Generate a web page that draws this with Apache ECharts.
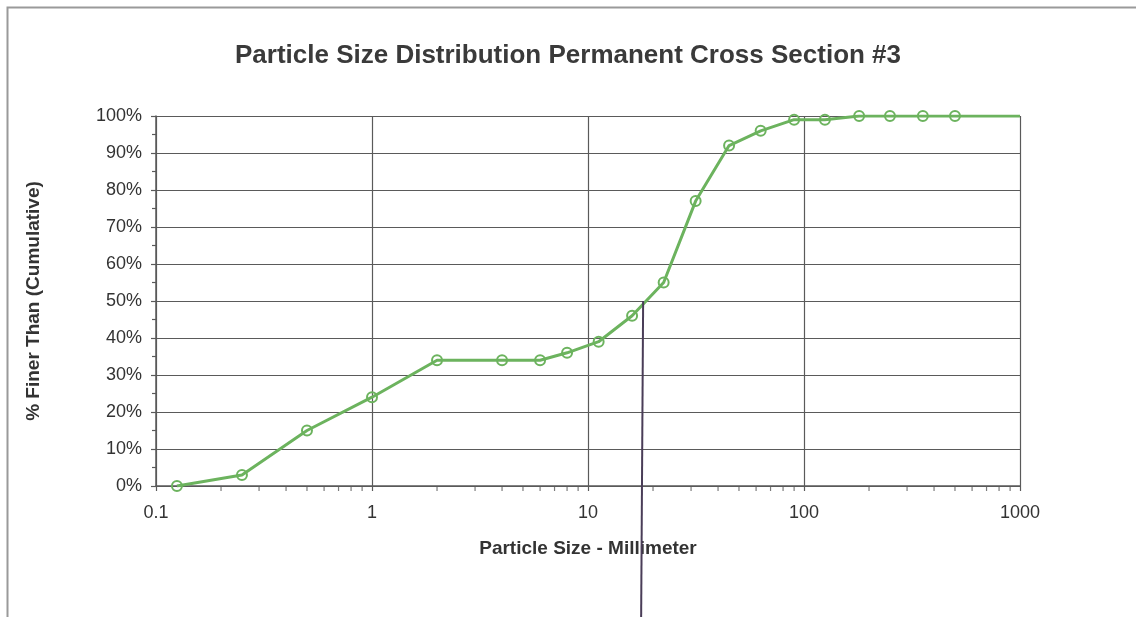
<!DOCTYPE html>
<html>
<head>
<meta charset="utf-8">
<script src="https://cdn.jsdelivr.net/npm/echarts@6/dist/echarts.min.js"></script>
<style>
html,body{margin:0;padding:0;background:#fff;}
#chart{width:1136px;height:617px;}
</style>
</head>
<body>
<div id="chart"></div>
<script>
// Data
const particleSizes = [0.125, 0.25, 0.5, 1, 2, 4, 6, 8, 11.2, 16, 22.4, 31.5, 45, 63, 90, 125, 180, 250, 355, 500, 1000];
const percentFiner  = [0, 3, 15, 24, 34, 34, 34, 36, 39, 46, 55, 77, 92, 96, 99, 99, 100, 100, 100, 100, 100];
const markerShown   = [1,1,1,1,1,1,1,1,1,1,1,1,1,1,1,1,1,1,1,1,0];
const minorTickValues = [0.2,0.3,0.4,0.5,0.6,0.7,0.8,0.9, 2,3,4,5,6,7,8,9, 20,30,40,50,60,70,80,90, 200,300,400,500,600,700,800,900];
const d50Size = 18;
const d50Percent = 50;
const titleText = 'Particle Size Distribution Permanent Cross Section #3';
const xAxisTitle = 'Particle Size - Millimeter';
const yAxisTitle = '% Finer Than (Cumulative)';

const green = '#6cb35e';
const gridCol = '#5a5a5a';
const textCol = '#333333';
const FONT = '"Liberation Sans", Arial, sans-serif';

const lineData = particleSizes.map((x, i) => ({
  value: [x, percentFiner[i]],
  symbol: markerShown[i] ? 'circle' : 'none'
}));

const chart = echarts.init(document.getElementById('chart'), null, {renderer: 'canvas'});
const option = {
  animation: false,
  backgroundColor: '#ffffff',
  title: {
    text: titleText,
    left: 'center',
    top: 38,
    textStyle: {fontFamily: FONT, fontSize: 26, fontWeight: 'bold', color: '#3a3a3a'}
  },
  grid: {left: 156, right: 116, top: 116, bottom: 131, containLabel: false},
  xAxis: {
    type: 'log',
    logBase: 10,
    min: 0.1,
    max: 1000,
    name: xAxisTitle,
    nameLocation: 'middle',
    nameGap: 53,
    nameTextStyle: {fontFamily: FONT, fontSize: 19, fontWeight: 'bold', color: textCol},
    axisLine: {show: true, lineStyle: {color: gridCol, width: 1.5}},
    axisTick: {show: true, length: 5, lineStyle: {color: gridCol, width: 1.2}},
    axisLabel: {
      fontFamily: FONT, fontSize: 18, color: textCol, margin: 18,
      formatter: v => String(+v.toPrecision(6))
    },
    splitLine: {show: true, lineStyle: {color: gridCol, width: 1.2}}
  },
  yAxis: {
    type: 'value',
    min: 0,
    max: 100,
    interval: 10,
    name: yAxisTitle,
    nameLocation: 'middle',
    nameGap: 113,
    nameRotate: 90,
    nameTextStyle: {fontFamily: FONT, fontSize: 19, fontWeight: 'bold', color: textCol},
    axisLine: {show: true, lineStyle: {color: gridCol, width: 1.5}},
    axisTick: {show: true, length: 5, lineStyle: {color: gridCol, width: 1.2}},
    minorTick: {show: true, splitNumber: 2, length: 4, lineStyle: {color: gridCol, width: 1.2}},
    axisLabel: {fontFamily: FONT, fontSize: 18, color: textCol, margin: 14, formatter: '{value}%'},
    splitLine: {show: true, lineStyle: {color: gridCol, width: 1.2}}
  },
  series: [
    {
      type: 'line',
      data: lineData,
      symbolSize: 10,
      showSymbol: true,
      lineStyle: {color: green, width: 3},
      itemStyle: {color: 'rgba(255,255,255,0)', borderColor: green, borderWidth: 2},
      z: 5
    },
    {
      type: 'scatter',
      data: minorTickValues.map(v => [v, 0]),
      symbol: 'rect',
      symbolSize: [1.2, 5],
      symbolOffset: [0, 2.5],
      itemStyle: {color: gridCol},
      silent: true,
      clip: false,
      z: 3
    }
  ]
};
chart.setOption(option);

// Hand-drawn D50 marker: vertical line from the 50% crossing down past the chart
const p = chart.convertToPixel({gridIndex: 0}, [d50Size, d50Percent]);
chart.setOption({
  graphic: [
    {
      type: 'rect',
      shape: {x: 7.5, y: 7.5, width: 1200, height: 700},
      style: {fill: 'none', stroke: '#9a9a9a', lineWidth: 2},
      silent: true, z: 0
    },
    {
      type: 'line',
      shape: {x1: p[0], y1: p[1], x2: p[0] - 2, y2: 617},
      style: {stroke: '#4a3d58', lineWidth: 2},
      silent: true, z: 10
    }
  ]
});
</script>
</body>
</html>
